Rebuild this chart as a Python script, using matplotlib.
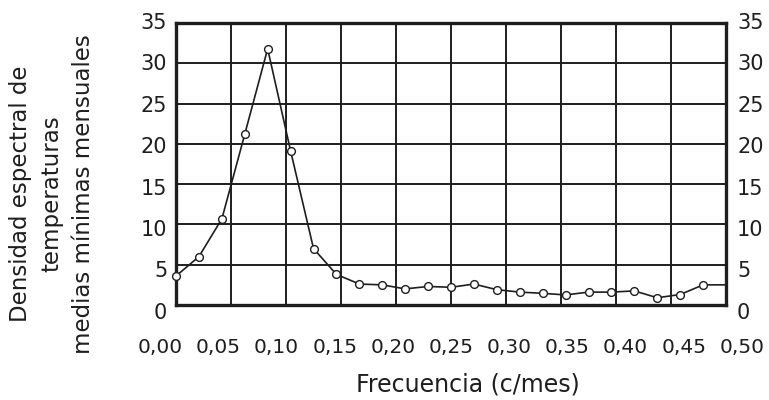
import matplotlib
matplotlib.use("Agg")
import matplotlib.pyplot as plt
from matplotlib.transforms import blended_transform_factory

# frequency (cycles / month) and spectral density
freq = [0.0000, 0.0208, 0.0417, 0.0625, 0.0833, 0.1042, 0.1250, 0.1458,
        0.1667, 0.1875, 0.2083, 0.2292, 0.2500, 0.2708, 0.2917, 0.3125,
        0.3333, 0.3542, 0.3750, 0.3958, 0.4167, 0.4375, 0.4583, 0.4792,
        0.5000]
density = [3.6, 6.0, 10.7, 21.2, 31.8, 19.1, 7.0, 3.8,
           2.6, 2.5, 2.0, 2.3, 2.2, 2.6, 1.9, 1.6,
           1.45, 1.25, 1.6, 1.6, 1.75, 0.9, 1.3, 2.5,
           2.5]

x_ticks = [0.00, 0.05, 0.10, 0.15, 0.20, 0.25, 0.30, 0.35, 0.40, 0.45, 0.50]
x_labels = ["0,00", "0,05", "0,10", "0,15", "0,20", "0,25", "0,30",
            "0,35", "0,40", "0,45", "0,50"]
y_ticks = [0, 5, 10, 15, 20, 25, 30, 35]

INK = "#1e1e1e"
plt.rcParams["font.family"] = ["DejaVu Sans"]

fig = plt.figure(figsize=(7.69, 4.00), dpi=100)
ax = fig.add_axes([0.2289, 0.2375, 0.7152, 0.705])

ax.plot(freq, density, color=INK, lw=1.2, marker="o", ms=5.6,
        mfc="white", mec=INK, mew=1.0, markevery=list(range(len(freq) - 1)),
        clip_on=False, zorder=3)

ax.set_xlim(0, 0.5)
ax.set_ylim(0, 35)
ax.set_xticks(x_ticks)
ax.set_yticks(y_ticks)
ax.tick_params(length=0, labelbottom=False, labelleft=False)
ax.grid(True, color=INK, lw=1.4)
for sp in ax.spines.values():
    sp.set_linewidth(2.4)
    sp.set_color(INK)

# the printed labels sit slightly spread out from the grid, as in the source
sx, sy = 1.058, 1.028
xt = blended_transform_factory(ax.transData, ax.transAxes)
for t, lab in zip(x_ticks, x_labels):
    ax.text(0.25 + (t - 0.25) * sx, -0.149, lab, transform=xt,
            ha="center", va="center", fontsize=14.5, color=INK, clip_on=False)

yt = blended_transform_factory(ax.transAxes, ax.transData)
for v in y_ticks:
    yy = 35 - (35 - v) * sy
    ax.text(-0.016, yy, str(v), transform=yt, ha="right", va="center",
            fontsize=15, color=INK, clip_on=False)
    ax.text(1.02, yy, str(v), transform=yt, ha="left", va="center",
            fontsize=15, color=INK, clip_on=False)

fig.text(52 / 769, 0.515,
         "Densidad espectral de\ntemperaturas\nmedias mínimas mensuales",
         rotation=90, ha="center", va="center", multialignment="center",
         fontsize=16.5, linespacing=1.45, color=INK)
fig.text(468 / 769, 0.038, "Frecuencia (c/mes)", ha="center", va="center",
         fontsize=17, color=INK)

fig.savefig("out.png", dpi=100, facecolor="white")
